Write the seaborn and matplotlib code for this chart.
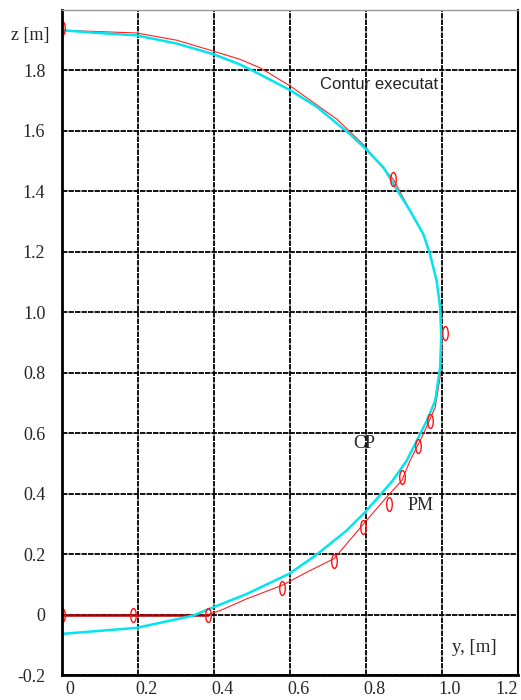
import numpy as np
import matplotlib
matplotlib.use("Agg")
import matplotlib.pyplot as plt
from matplotlib.path import Path
from matplotlib.transforms import Affine2D, ScaledTranslation
import pandas as pd
import seaborn as sns

# contour CP (cyan)
cp_y = [0.0, 0.083, 0.196, 0.302, 0.398, 0.468, 0.521, 0.6, 0.670, 0.758, 0.797,
        0.846, 0.885, 0.916, 0.951, 0.968, 0.986, 0.995, 0.998, 0.995, 0.982, 0.960,
        0.938, 0.907, 0.870, 0.837, 0.797, 0.749, 0.670, 0.598, 0.486, 0.398, 0.346,
        0.311, 0.196, 0.0]
cp_z = [1.933, 1.925, 1.916, 1.889, 1.854, 1.820, 1.787, 1.735, 1.680, 1.589, 1.543,
        1.479, 1.398, 1.336, 1.258, 1.194, 1.104, 1.016, 0.920, 0.818, 0.707, 0.641,
        0.586, 0.509, 0.443, 0.395, 0.338, 0.278, 0.198, 0.135, 0.068, 0.024, -0.003,
        -0.013, -0.044, -0.064]

# executed contour PM (red)
pm_y = [0.384, 0.416, 0.486, 0.58, 0.644, 0.716, 0.797, 0.854, 0.894, 0.916, 0.951,
        0.982, 0.995, 1.0, 0.998, 0.986, 0.968, 0.951, 0.916, 0.907, 0.872, 0.832,
        0.797, 0.723, 0.6, 0.521, 0.468, 0.398, 0.302, 0.196, 0.0]
pm_z = [0.0, 0.013, 0.052, 0.097, 0.140, 0.185, 0.305, 0.388, 0.443, 0.509, 0.597,
        0.685, 0.785, 0.88, 1.0, 1.104, 1.194, 1.258, 1.336, 1.358, 1.44, 1.495,
        1.550, 1.639, 1.749, 1.809, 1.837, 1.864, 1.90, 1.924, 1.933]

# horizontal start segment
base_y = [0.0, 0.188, 0.384]
base_z = [0.0, 0.0, 0.0]

# measured points (ellipse markers)
mk_y = [0.0, 0.188, 0.384, 0.580, 0.716, 0.793, 0.861, 0.894, 0.938, 0.969, 1.008, 0.872, 0.0]
mk_z = [0.0, 0.0, 0.0, 0.088, 0.178, 0.289, 0.366, 0.456, 0.559, 0.640, 0.933, 1.440, 1.94]

x_ticks = [0, 0.2, 0.4, 0.6, 0.8, 1.0, 1.2]
x_labels = ["0", "0.2", "0.4", "0.6", "0.8", "1.0", "1.2"]
z_ticks = [-0.2, 0, 0.2, 0.4, 0.6, 0.8, 1.0, 1.2, 1.4, 1.6, 1.8]
z_labels = ["-0.2", "0", "0.2", "0.4", "0.6", "0.8", "1.0", "1.2", "1.4", "1.6", "1.8"]

sns.set_style("white")
plt.rcParams["font.family"] = ["Liberation Serif", "DejaVu Serif"]

fig = plt.figure(figsize=(5.21, 7.0), dpi=100)
ax = fig.add_axes([62 / 521, 25 / 700, 456 / 521, 665 / 700])

cp = pd.DataFrame({"y": cp_y, "z": cp_z})
pm = pd.DataFrame({"y": pm_y, "z": pm_z})
base = pd.DataFrame({"y": base_y, "z": base_z})
mk = pd.DataFrame({"y": mk_y, "z": mk_z})

sns.lineplot(data=base, x="y", y="z", sort=False, estimator=None,
             color="#b00000", linewidth=1.8, ax=ax)
sns.lineplot(data=pm, x="y", y="z", sort=False, estimator=None,
             color="#ff2020", linewidth=0.8, ax=ax)
sns.lineplot(data=cp, x="y", y="z", sort=False, estimator=None,
             color="#00e5f0", linewidth=1.8, ax=ax)

ell = Path.unit_circle().transformed(Affine2D().scale(0.4, 1.0))
ax.plot(mk["y"], mk["z"], linestyle="none", marker=ell, markersize=10,
        markerfacecolor="none", markeredgecolor="#ff1010", markeredgewidth=1.0)

ax.set_xlim(0, 1.2)
ax.set_ylim(-0.2, 2.0)
ax.set_xticks(x_ticks)
ax.set_xticklabels(x_labels, fontsize=13)
ax.set_yticks(z_ticks)
ax.set_yticklabels(z_labels, fontsize=13)
ax.tick_params(length=0, pad=12)
ax.tick_params(axis="x", pad=4)
xlabs = ax.get_xticklabels()
for lab in xlabs[:-1]:
    lab.set_transform(lab.get_transform() + ScaledTranslation(0.08, 0, fig.dpi_scale_trans))
xlabs[-1].set_horizontalalignment("right")
ax.set_xlabel("")
ax.set_ylabel("")

ax.grid(True, color="black", linewidth=1.3, linestyle=(0, (3, 0.6)))
ax.set_axisbelow(True)

for side in ["left", "bottom"]:
    ax.spines[side].set_color("black")
    ax.spines[side].set_linewidth(2.0)
ax.spines["right"].set_color("black")
ax.spines["right"].set_linewidth(1.5)
ax.spines["top"].set_color("#999999")
ax.spines["top"].set_linewidth(1.0)

ax.text(-0.084, 1.915, "z [m]", fontsize=13, ha="center", va="center", clip_on=False)
ax.text(1.085, -0.11, "y, [m]", fontsize=13.5, ha="center", va="center")
ax.text(0.68, 1.755, "Contur executat", fontsize=12, family="Liberation Sans",
        ha="left", va="center", color="#222222")
ax.text(0.766, 0.565, "CP", fontsize=13, ha="left", va="center")
ax.text(0.91, 0.36, "PM", fontsize=13, ha="left", va="center")

fig.savefig("out.png", dpi=100)
